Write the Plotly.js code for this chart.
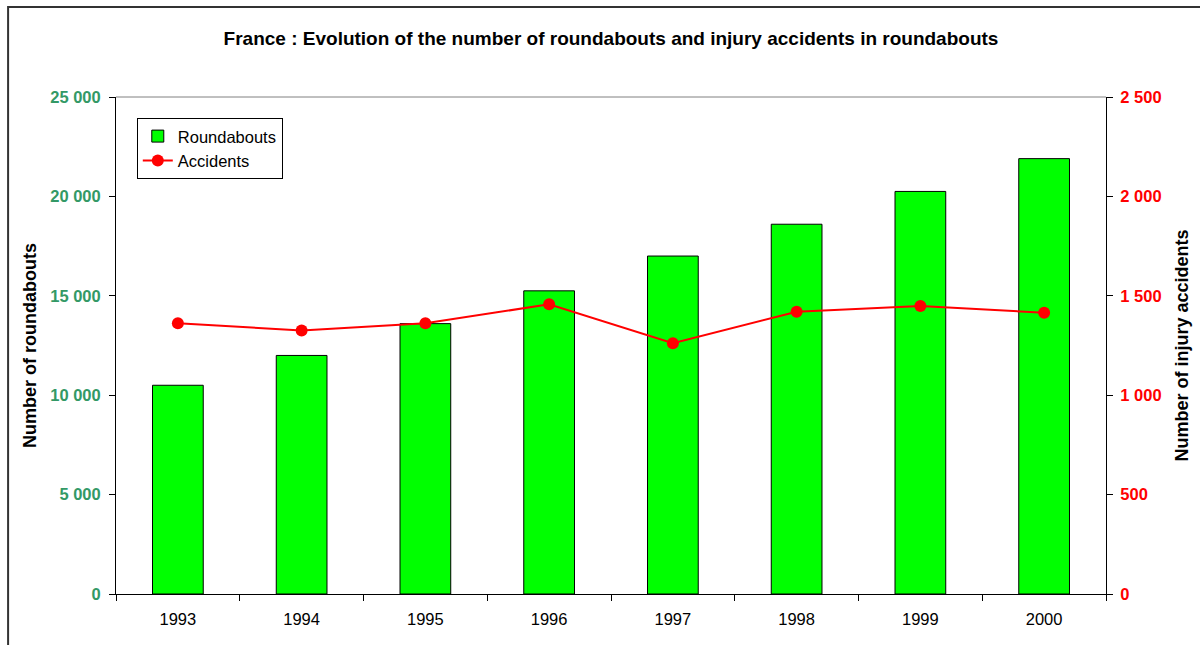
<!DOCTYPE html>
<html>
<head>
<meta charset="utf-8">
<script src="https://cdn.plot.ly/plotly-3.0.1.min.js"></script>
<style>html,body{margin:0;padding:0;background:#fff;}#chart{width:1200px;height:645px;}</style>
</head>
<body>
<div id="chart"></div>
<script>
const years = ["1993","1994","1995","1996","1997","1998","1999","2000"];
const roundabouts = [10500, 12000, 13600, 15250, 17000, 18600, 20250, 21900];
const accidents = [1362, 1326, 1362, 1457, 1261, 1420, 1449, 1415];
const leftTicks = [0, 5000, 10000, 15000, 20000, 25000];
const leftTickText = ["0", "5 000", "10 000", "15 000", "20 000", "25 000"];
const rightTicks = [0, 500, 1000, 1500, 2000, 2500];
const rightTickText = ["0", "500", "1 000", "1 500", "2 000", "2 500"];

const FONT = "Liberation Sans, Arial, sans-serif";

const traces = [
  {
    type: "bar", x: years, y: roundabouts, name: "Roundabouts",
    marker: {color: "#00ff00", line: {color: "#000000", width: 1}},
    yaxis: "y"
  },
  {
    type: "scatter", mode: "lines+markers", x: years, y: accidents, name: "Accidents",
    line: {color: "#ff0000", width: 2},
    marker: {color: "#ff0000", size: 12},
    yaxis: "y2"
  }
];

const layout = {
  width: 1200, height: 645,
  margin: {l: 116, r: 94, t: 97, b: 51},
  paper_bgcolor: "#ffffff", plot_bgcolor: "#ffffff",
  font: {family: FONT, size: 16, color: "#000"},
  title: {
    text: "<b>France : Evolution of the number of roundabouts and injury accidents in roundabouts</b>",
    font: {family: FONT, size: 19, color: "#000"},
    x: 0.5, xanchor: "center", y: 0.941, yanchor: "middle", xref: "paper"
  },
  bargap: 0.59,
  showlegend: true,
  legend: {
    x: 0.021, y: 0.958, xanchor: "left", yanchor: "top",
    bgcolor: "#ffffff", bordercolor: "#000000", borderwidth: 1,
    font: {family: FONT, size: 16.5, color: "#000"},
    tracegroupgap: 0, itemwidth: 30
  },
  xaxis: {
    type: "category",
    showline: true, linecolor: "#000", linewidth: 1,
    ticks: "outside", ticklen: 6, tickcolor: "#000", tickson: "boundaries",
    showgrid: false, zeroline: false,
    tickfont: {family: FONT, size: 16.5, color: "#000"},
    ticklabelstandoff: 10
  },
  yaxis: {
    range: [0, 25000], tickvals: leftTicks, ticktext: leftTickText,
    showline: true, linecolor: "#000", linewidth: 1,
    ticks: "outside", ticklen: 6, tickcolor: "#000",
    showgrid: false, zeroline: false,
    ticklabelstandoff: 5,
    tickfont: {family: FONT, size: 16.5, color: "#339966", weight: "bold"},
    title: {text: "<b>Number of roundabouts</b>", font: {family: FONT, size: 18, color: "#000"}, standoff: 8}
  },
  yaxis2: {
    overlaying: "y", side: "right",
    range: [0, 2500], tickvals: rightTicks, ticktext: rightTickText,
    showline: true, linecolor: "#000", linewidth: 1,
    ticks: "outside", ticklen: 6, tickcolor: "#000",
    showgrid: false, zeroline: false,
    ticklabelstandoff: 4,
    tickfont: {family: FONT, size: 16.5, color: "#ff0000", weight: "bold"},
    title: {text: "<b>Number of injury accidents</b>", font: {family: FONT, size: 18, color: "#000"}, standoff: 14}
  },
  shapes: [
    {type: "line", xref: "paper", yref: "paper", x0: 0, x1: 1, y0: 1, y1: 1,
     line: {color: "#808080", width: 1}},
    {type: "rect", xref: "paper", yref: "paper",
     x0: -0.109, x1: 1.2, y0: -0.2, y1: 1.181,
     line: {color: "#333333", width: 2}, fillcolor: "rgba(0,0,0,0)", layer: "below"}
  ]
};

Plotly.newPlot("chart", traces, layout, {displayModeBar: false, staticPlot: true});
</script>
</body>
</html>
